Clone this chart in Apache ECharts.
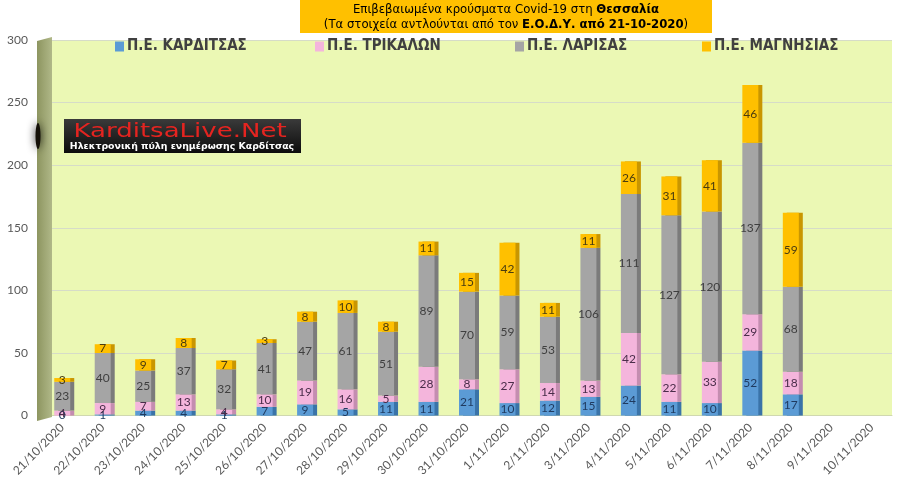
<!DOCTYPE html>
<html>
<head>
<meta charset="utf-8">
<script src="https://cdn.jsdelivr.net/npm/echarts@6/dist/echarts.min.js"></script>
<style>html,body{margin:0;padding:0;background:#fff;}#c{width:900px;height:479px;}</style>
</head>
<body>
<div id="c"></div>
<script>
const categories = ['21/10/2020','22/10/2020','23/10/2020','24/10/2020','25/10/2020','26/10/2020','27/10/2020','28/10/2020','29/10/2020','30/10/2020','31/10/2020','1/11/2020','2/11/2020','3/11/2020','4/11/2020','5/11/2020','6/11/2020','7/11/2020','8/11/2020','9/11/2020','10/11/2020'];
const seriesNames = ['Π.Ε. ΚΑΡΔΙΤΣΑΣ','Π.Ε. ΤΡΙΚΑΛΩΝ','Π.Ε. ΛΑΡΙΣΑΣ','Π.Ε. ΜΑΓΝΗΣΙΑΣ'];
const karditsa = [0,1,4,4,1,7,9,5,11,11,21,10,12,15,24,11,10,52,17,null,null];
const trikala  = [4,9,7,13,4,10,19,16,5,28,8,27,14,13,42,22,33,29,18,null,null];
const larisa   = [23,40,25,37,32,41,47,61,51,89,70,59,53,106,111,127,120,137,68,null,null];
const magnisia = [3,7,9,8,7,3,8,10,8,11,15,42,11,11,26,31,41,46,59,null,null];
const yTicks = [0,50,100,150,200,250,300];

const faceColors = ['#5b9bd5','#f4b5dc','#a5a5a5','#ffc000'];
const sideColors = ['#3a73a8','#c48db0','#7b7b7b','#c99600'];
const labelColors = ['#1f3a5f','#4a2d4a','#3f3f3f','#4a3c10'];
const narrow = "'Liberation Sans Narrow','DejaVu Sans Condensed',sans-serif";
const numFont = "Lato, 'Liberation Sans', sans-serif";

const chart = echarts.init(document.getElementById('c'));
const allData = [karditsa, trikala, larisa, magnisia];

const series = seriesNames.map((name, i) => ({
  name: name,
  type: 'bar',
  stack: 'total',
  barWidth: 16,
  data: allData[i],
  itemStyle: {
    color: faceColors[i],
    shadowColor: sideColors[i],
    shadowOffsetX: 4,
    shadowOffsetY: 0,
    shadowBlur: 0
  },
  label: {
    show: true,
    position: 'inside',
    color: labelColors[i],
    fontSize: 12,
    fontFamily: numFont,
    formatter: p => (p.value === null || p.value === undefined) ? '' : String(p.value)
  },
  emphasis: { disabled: true }
}));

const legendLefts = [110, 310, 510, 697];
const legends = seriesNames.map((n, i) => ({
  data: [n],
  left: legendLefts[i],
  top: 34,
  icon: 'rect',
  itemWidth: 9,
  itemHeight: 10,
  itemGap: 4,
  textStyle: { fontSize: 15, fontWeight: 'bold', color: '#404040', fontFamily: narrow, padding: [0,0,0,-2] },
  selectedMode: false
}));

chart.setOption({
  animation: false,
  backgroundColor: '#ffffff',
  grid: {
    left: 42, right: 8, top: 40, bottom: 60,
    show: true, backgroundColor: '#ebf8b4', borderWidth: 0
  },
  legend: legends,
  xAxis: {
    type: 'category',
    data: categories,
    axisLine: { show: true, lineStyle: { color: '#d0d8b0' } },
    axisTick: { show: false },
    axisLabel: { rotate: 45, color: '#595959', fontSize: 12, fontFamily: numFont, margin: 10, interval: 0 }
  },
  yAxis: {
    type: 'value',
    min: 0, max: 300, interval: 50,
    axisLine: { show: false },
    axisTick: { show: false },
    axisLabel: { color: '#595959', fontSize: 12, fontFamily: numFont, margin: 14,
      formatter: v => yTicks.indexOf(v) >= 0 ? String(v) : '' },
    splitLine: { lineStyle: { color: '#d6dcc8', width: 1 } }
  },
  graphic: [
    { type: 'polygon', z: 1, shape: { points: [[37,41],[52,37],[52,417],[37,421]] },
      style: { fill: new echarts.graphic.LinearGradient(0,0,1,0,[{offset:0,color:'#8d9560'},{offset:1,color:'#b0b888'}]) } },
    { type: 'ellipse', z: 2, shape: { cx: 38, cy: 136, rx: 2.5, ry: 13 },
      style: { fill: '#141008', shadowBlur: 8, shadowColor: 'rgba(0,0,0,0.9)' } },
    { type: 'rect', z: 3, shape: { x: 300, y: 0, width: 412, height: 33 }, style: { fill: '#ffc000' } },
    { type: 'text', z: 4, x: 506, y: 2,
      style: {
        text: '{n|Επιβεβαιωμένα κρούσματα Covid-19 στη }{b|Θεσσαλία}\n{n|(Τα στοιχεία αντλούνται από τον }{b|Ε.Ο.Δ.Υ. από }{r|21-10-2020}{n|)}',
        align: 'center',
        lineHeight: 15,
        rich: {
          n: { fontSize: 13, color: '#555555', fontFamily: narrow, lineHeight: 15 },
          b: { fontSize: 13, color: '#404040', fontWeight: 'bold', fontFamily: narrow, lineHeight: 15 },
          r: { fontSize: 13, color: '#e00000', fontWeight: 'bold', fontFamily: narrow, lineHeight: 15 }
        }
      } },
    { type: 'rect', z: 3, shape: { x: 64, y: 119, width: 237, height: 34 },
      style: { fill: new echarts.graphic.LinearGradient(0,0,0,1,[{offset:0,color:'#3a3a3a'},{offset:1,color:'#0c0c0c'}]) } },
    { type: 'text', z: 4, x: 180, y: 122, scaleX: 1.3,
      style: { text: 'KarditsaLive.Net', align: 'center', fontSize: 20, fill: '#e52420', fontFamily: "'DejaVu Sans',sans-serif" } },
    { type: 'text', z: 4, x: 182, y: 142, scaleX: 1.1,
      style: { text: 'Ηλεκτρονική πύλη ενημέρωσης Καρδίτσας', align: 'center', fontSize: 8.5, fontWeight: 'bold', fill: '#ffffff', fontFamily: "'DejaVu Sans',sans-serif" } }
  ],
  series: series
});
</script>
</body>
</html>
